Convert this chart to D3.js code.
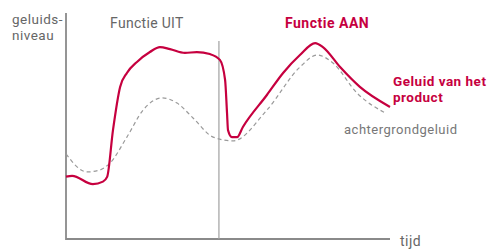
<!DOCTYPE html>
<html>
<head>
<meta charset="utf-8">
<script src="https://cdn.jsdelivr.net/npm/d3@7"></script>
<style>
  body { margin: 0; background: #fff; }
  svg { display: block; }
</style>
</head>
<body>
<div id="chart"></div>
<script>
// tijd (0-100) en geluidsniveau (0-100)
const productTime = [0, 1.9, 8.3, 11.4, 12.7, 14.5, 16.7, 18.8, 21.9, 25.9, 29.0, 32.1, 36.7, 40.4, 44.4, 47.5, 49.1, 49.7, 50.0, 51.2, 52.8, 54.6, 62.0, 67.0, 72.2, 76.9, 79.3, 84.6, 90.7, 100];
const productLevel = [27.7, 28.1, 24.4, 25.5, 27.6, 48.4, 67.6, 73.8, 78.7, 83.1, 85.3, 84.4, 82.7, 83.1, 82.2, 79.6, 70.7, 56, 48.4, 45.3, 45.3, 49.8, 64, 73.8, 81.8, 87.1, 85.3, 76.4, 67.6, 58.7];

const backgroundTime = [0, 6.5, 10.5, 13.6, 18.8, 23.8, 29.6, 34.3, 39.2, 45.4, 51.5, 62.0, 72.2, 77.5, 82.4, 89.8, 98.5];
const backgroundLevel = [37.8, 29.8, 30.7, 33.8, 45.3, 57.3, 62.7, 60.4, 53.8, 45.3, 43.6, 57.3, 76.4, 81.8, 78.2, 64.9, 56];

const switchTime = 47.2;

const labels = {
  yAxis: ['geluids-', 'niveau'],
  xAxis: 'tijd',
  off: 'Functie UIT',
  on: 'Functie AAN',
  product: ['Geluid van het', 'product'],
  background: 'achtergrondgeluid',
};

const width = 494;
const height = 251;
const red = '#c6003f';
const font = 'Roboto, sans-serif';

const x = d3.scaleLinear().domain([0, 100]).range([66, 390]);
const y = d3.scaleLinear().domain([0, 100]).range([239, 14]);

const svg = d3.select('#chart')
  .append('svg')
  .attr('width', width)
  .attr('height', height);

// assen
svg.append('path')
  .attr('d', `M${x(0)},${y(100) - 1}V${y(0)}H${x(100)}`)
  .attr('fill', 'none')
  .attr('stroke', '#8a8a8a')
  .attr('stroke-width', 1.8);

svg.append('line')
  .attr('x1', x(switchTime))
  .attr('x2', x(switchTime))
  .attr('y1', y(88))
  .attr('y2', y(0))
  .attr('stroke', '#a0a0a0')
  .attr('stroke-width', 1.2);

const line = d3.line()
  .curve(d3.curveMonotoneX)
  .x(d => x(d[0]))
  .y(d => y(d[1]));

svg.append('path')
  .datum(backgroundTime.map((t, i) => [t, backgroundLevel[i]]))
  .attr('fill', 'none')
  .attr('stroke', '#9a9a9a')
  .attr('stroke-width', 1.2)
  .attr('stroke-dasharray', '4,3')
  .attr('d', line);

svg.append('path')
  .datum(productTime.map((t, i) => [t, productLevel[i]]))
  .attr('fill', 'none')
  .attr('stroke', red)
  .attr('stroke-width', 2.2)
  .attr('stroke-linejoin', 'round')
  .attr('d', line);

// teksten (meerdere regels als tspans in één text)
const text = (tx, ty, lines, opts = {}) => {
  const t = svg.append('text')
    .attr('x', tx)
    .attr('y', ty)
    .attr('font-family', font)
    .attr('font-size', opts.size || 14)
    .attr('font-weight', opts.bold ? 'bold' : 'normal')
    .attr('letter-spacing', opts.spacing ?? 0.5)
    .attr('fill', opts.color || '#666');
  [].concat(lines).forEach((s, i) => {
    t.append('tspan')
      .attr('x', tx)
      .attr('dy', i === 0 ? 0 : opts.lineHeight || 16)
      .text(s);
  });
  return t;
};

text(12, 24, labels.yAxis, { size: 13.5, lineHeight: 16 });
text(110, 28, labels.off, { spacing: 0.3 });
text(285, 28, labels.on, { bold: true, color: red });
text(393, 86, labels.product, { bold: true, color: red, size: 13.5, lineHeight: 16 });
text(344, 134, labels.background, { size: 13, color: '#777' });
text(400, 246, labels.xAxis);
</script>
</body>
</html>
